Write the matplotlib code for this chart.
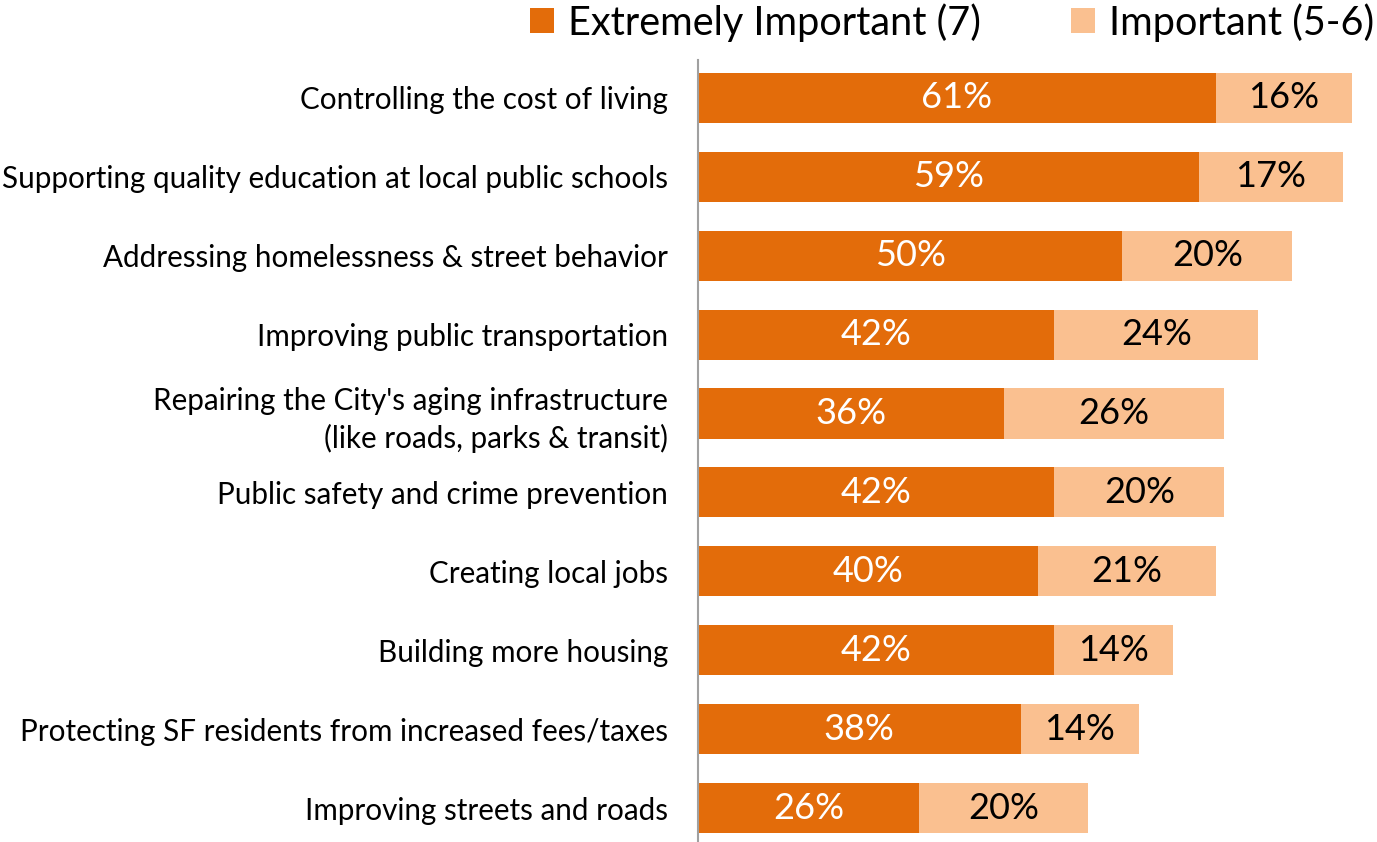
import matplotlib
matplotlib.use("Agg")
import matplotlib.pyplot as plt
import numpy as np

categories = [
    "Controlling the cost of living",
    "Supporting quality education at local public schools",
    "Addressing homelessness & street behavior",
    "Improving public transportation",
    "Repairing the City's aging infrastructure\n(like roads, parks & transit)",
    "Public safety and crime prevention",
    "Creating local jobs",
    "Building more housing",
    "Protecting SF residents from increased fees/taxes",
    "Improving streets and roads",
]
extremely = [61, 59, 50, 42, 36, 42, 40, 42, 38, 26]
important = [16, 17, 20, 24, 26, 20, 21, 14, 14, 20]
series_names = ["Extremely Important (7)", "Important (5-6)"]

C_DARK = "#E36C0A"
C_LIGHT = "#FAC090"
FONT = ["Lato", "DejaVu Sans"]
plt.rcParams["font.family"] = FONT

W, H = 1377, 842
fig = plt.figure(figsize=(W / 100, H / 100), dpi=100)
ax_left = 698 / W
ax_bottom = 0.0
ax_top = 60 / H
ax = fig.add_axes([ax_left, ax_bottom, 1 - ax_left, 1 - ax_top - ax_bottom])

y = np.arange(len(categories))
b1 = ax.barh(y, extremely, height=0.635, color=C_DARK, label=series_names[0])
b2 = ax.barh(y, important, left=extremely, height=0.635, color=C_LIGHT, label=series_names[1])

for yi, e, i in zip(y, extremely, important):
    ax.text(e / 2, yi, f"{e}%", ha="center", va="center", color="white", fontsize=26)
    ax.text(e + i / 2, yi, f"{i}%", ha="center", va="center", color="black", fontsize=26)

ax.set_xlim(0, 80)
ax.set_ylim(9.43, -0.48)
ax.set_yticks(y)
ax.set_yticklabels(categories, fontsize=21.3, color="black")
for lbl in ax.get_yticklabels():
    lbl.set_linespacing(1.35)
ax.tick_params(axis="y", length=0, pad=21.5)
ax.set_xticks([])
for s in ["top", "right", "bottom"]:
    ax.spines[s].set_visible(False)
ax.spines["left"].set_color("#A0A0A0")
ax.spines["left"].set_linewidth(1.5)

fig.legend(handles=[b1, b2], labels=series_names, loc="upper right",
           bbox_to_anchor=(1.0 + 13 / W, 1.015), ncol=2, frameon=False, fontsize=28.5,
           handlelength=0.6, handleheight=0.6, handletextpad=0.35,
           columnspacing=2.3, borderaxespad=0.0)

fig.savefig("out.png", dpi=100)
